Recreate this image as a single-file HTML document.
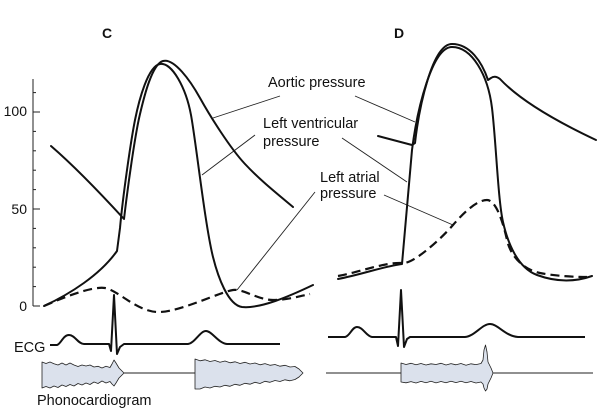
<!DOCTYPE html>
<html><head><meta charset="utf-8"><style>
html,body{margin:0;padding:0;background:#fff;}
svg{display:block;}
text{font-family:"Liberation Sans",Arial,sans-serif;fill:#111;}
</style></head><body>
<svg width="600" height="410" viewBox="0 0 600 410" xmlns="http://www.w3.org/2000/svg">
<!-- panel letters -->
<text x="102" y="38" font-size="14" font-weight="bold">C</text>
<text x="394" y="38" font-size="14" font-weight="bold">D</text>

<!-- axis -->
<g stroke="#222" stroke-width="1" fill="none">
<line x1="33" y1="79" x2="33" y2="306"/>
<line x1="33" y1="112" x2="40" y2="112"/>
<line x1="33" y1="209" x2="40" y2="209"/>
<line x1="33" y1="306" x2="40" y2="306"/>
<line x1="33" y1="92.6" x2="36" y2="92.6"/>
<line x1="33" y1="131.4" x2="36" y2="131.4"/>
<line x1="33" y1="150.8" x2="36" y2="150.8"/>
<line x1="33" y1="170.2" x2="36" y2="170.2"/>
<line x1="33" y1="189.6" x2="36" y2="189.6"/>
<line x1="33" y1="228.4" x2="36" y2="228.4"/>
<line x1="33" y1="247.8" x2="36" y2="247.8"/>
<line x1="33" y1="267.2" x2="36" y2="267.2"/>
<line x1="33" y1="286.6" x2="36" y2="286.6"/>
</g>
<text x="27" y="116" font-size="14" text-anchor="end">100</text>
<text x="27" y="214" font-size="14" text-anchor="end">50</text>
<text x="27" y="311" font-size="14" text-anchor="end">0</text>

<!-- labels -->
<text x="268" y="87" font-size="14.5">Aortic pressure</text>
<text x="263" y="128" font-size="14.5">Left ventricular</text>
<text x="263" y="146" font-size="14.5">pressure</text>
<text x="320" y="182" font-size="14.5">Left atrial</text>
<text x="320" y="198" font-size="14.5">pressure</text>
<text x="14" y="352" font-size="14.5">ECG</text>
<text x="37" y="405" font-size="14.5">Phonocardiogram</text>

<!-- leader lines -->
<g stroke="#222" stroke-width="0.9" fill="none">
<line x1="280" y1="96" x2="213" y2="118"/>
<line x1="255" y1="135" x2="202" y2="175"/>
<line x1="315" y1="192" x2="237" y2="290"/>
<line x1="355" y1="96" x2="415" y2="122"/>
<line x1="342" y1="138" x2="407" y2="182"/>
<line x1="384" y1="195" x2="453" y2="225"/>
</g>

<g stroke="#111" stroke-width="2" fill="none" stroke-linejoin="round" stroke-linecap="round">
<!-- Panel C aortic -->
<path d="M51,146 Q80,171 124,219 C128,185 135,135 140,114 C144,97 152,64 163,61 C174,58 190,80 200,98 C210,116 230,148 245,164 C260,180 275,192 293,207"/>
<!-- Panel C LV -->
<path d="M44,306 C70,294 100,275 117,251 L120,228 C123,195 131,140 135,120 C139,100 148,66 160,64 C172,62 186,88 191,115 C196,142 205,225 213,257 C218,277 228,305 242,307 C260,309 290,296 313,285"/>
<!-- Panel D LV -->
<path d="M338,279 C360,275 385,266 402,264 L412,150 C417,110 432,47 452,47 C472,47 488,75 492,108 C496,141 498,200 503,222 C508,244 518,268 537,275 C556,282 575,282 592,276"/>
<!-- Panel D aortic -->
<path d="M378,136 L412,145 L415,143 C419,108 432,44 452,44 C470,44 482,62 488,80 L491,78 Q495,75 500,79 C515,95 545,116 596,140"/>
</g>

<!-- dashed atrial -->
<g stroke="#111" stroke-width="2.2" fill="none" stroke-dasharray="9 5" stroke-linejoin="round">
<path d="M44,306 C62,298 92,286 105,288 C118,290 138,313 160,312 C182,311 220,292 233,290 C243,288.5 258,300 273,300 C288,300 300,296 310,294"/>
<path d="M338,276 C360,272 385,262 402,263 C412,265 440,240 453,225 C466,210 478,200 487,200 C496,200 503,222 507,240 C511,258 525,270 540,273 C555,276 575,277 587,277"/>
</g>

<!-- ECG -->
<g stroke="#111" stroke-width="2" fill="none" stroke-linejoin="round">
<path d="M50,345 L57,345 C61,344 63,335 69,335 C75,335 78,344 84,344 L109,344 L111,351 L114,295 L117,354 L120,347 L124,344 L188,344 C195,343 200,331 206,331 C212,331 218,343 227,344 L280,344"/>
<path d="M328,337 L345,337 C350,336 352,327 357,327 C363,327 366,336 372,337 L396,337 L398,346 L401,290 L404,347 L407,339 L410,337 L465,337 C475,336 482,324 490,324 C498,324 505,336 518,337 L585,337"/>
</g>

<!-- phonocardiogram -->
<g stroke="#222" stroke-width="0.8" fill="#dbe1ec" stroke-linejoin="round">
<polygon points="42,362 46,363.5 50,362 54,363.7 58,365 62,363 66,365 70,363 74,365 78,366.5 82,365 86,366 90,365 94,367 98,366.3 102,368 106,366.3 110,367.5 112,364 114,360 116,363 119,368 124,373 119,378 116,383 114,386 112,384 110,381.5 106,383 102,381 98,383.5 94,382 90,384.5 86,383 82,385 78,383.5 74,386 70,384.5 66,386.5 62,385 58,387.5 54,386 50,388 46,386.5 42,388"/>
<polygon points="195,359 200,360.8 205,359.8 210,361.5 215,360.5 220,362.3 225,361 230,362.8 235,361.8 240,363.5 245,362.3 250,364 255,363 260,364.8 265,363.6 270,365.3 275,364.5 280,366.2 285,365.3 290,367 295,366.5 299,369 303,373 299,377 295,379.5 290,380.8 285,379.8 280,381.5 275,380.5 270,382.3 265,381.3 260,383.5 255,382.3 250,384.2 245,383.3 240,385.3 235,384.3 230,386.3 225,385.3 220,387 215,386.3 210,388 205,387 200,389 195,389"/>
<polygon points="401,363 406,364.5 411,363.3 416,364.8 421,363.5 426,365 431,363.8 436,364.5 441,363.3 446,365 451,363.6 456,364.8 461,363.5 466,365.2 471,363.8 476,364.6 481,363.5 483,360 484,350 485.5,345 487,352 488,362 491,368 493,373 491,378 488,384 487,389 485.5,391 484,388 483,384 481,382 476,383 471,381.5 466,382.8 461,381.3 456,382.6 451,381.2 446,382.8 441,381.5 436,382.9 431,381.3 426,382.7 421,381.4 416,383 411,381.6 406,382.8 401,382"/>
</g>
<g stroke="#222" stroke-width="1" fill="none">
<line x1="124" y1="373" x2="195" y2="373"/>
<line x1="326" y1="373" x2="401" y2="373"/>
<line x1="493" y1="373" x2="593" y2="373"/>
</g>
</svg>
</body></html>
